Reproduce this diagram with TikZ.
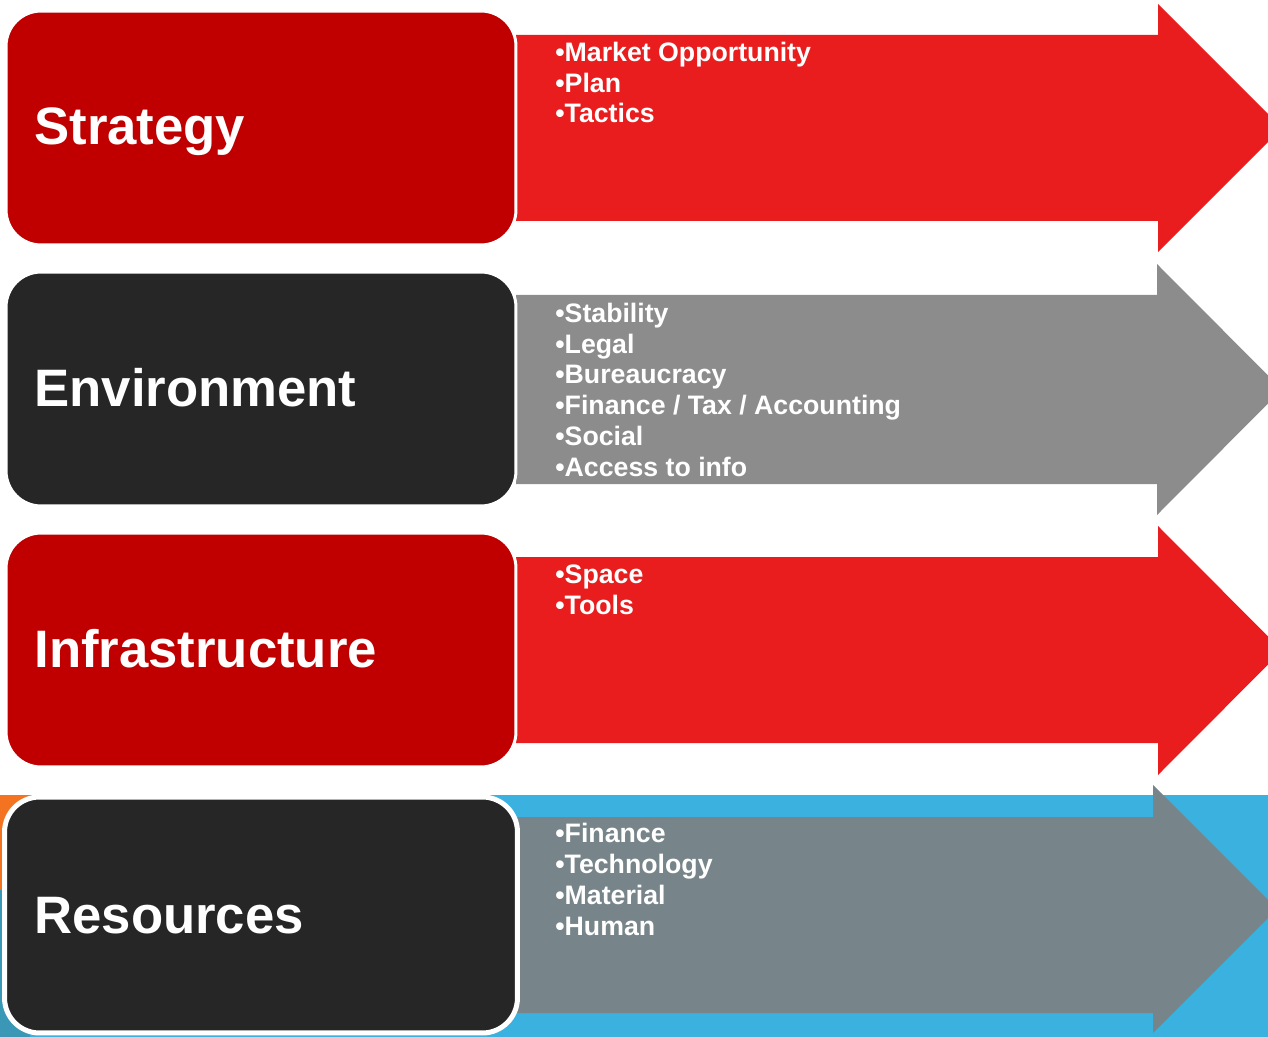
\documentclass[tikz,border=0pt]{standalone}
\usepackage{fontspec}
\setmainfont{Liberation Sans}

\definecolor{boxred}{HTML}{C00000}
\definecolor{arrowred}{HTML}{E91D1D}
\definecolor{boxdark}{HTML}{262626}
\definecolor{arrowgray}{HTML}{8C8C8C}
\definecolor{arrowslate}{HTML}{77858A}
\definecolor{bandblue}{HTML}{3AB1DF}
\definecolor{bandorange}{HTML}{F47321}
\definecolor{bandteal}{HTML}{3A97B6}

\tikzset{
  catbox/.style={draw=white, line width=0.06cm, rounded corners=0.7cm,
    minimum width=10.2cm, minimum height=4.68cm, inner sep=0pt},
  titletext/.style={text=white, font=\bfseries\fontsize{30}{36}\selectfont,
    anchor=base west, inner sep=0pt},
  itemlist/.style={text=white, font=\bfseries\fontsize{15.2}{17.5}\selectfont,
    align=left, anchor=base west, inner sep=0pt}, % base = last line
}

\begin{document}
\begin{tikzpicture}[x=0.02cm, y=-0.02cm]
\useasboundingbox (0,0) rectangle (1268,1037);
\clip (0,0) rectangle (1268,1037);

\fill [bandblue] (0,795) rectangle (1268,1037); % band behind last row
\fill [bandorange] (0,795) rectangle (30,890);
\fill [bandteal] (0,890) rectangle (30,1037);

\fill [arrowred] (516,35) -- (1158,35) -- (1158,4) -- (1282,128)
  -- (1158,252) -- (1158,221) -- (516,221) -- cycle; % strategy arrow
\node [catbox, fill=boxred] (strategy) at (261,128) {};
\node [titletext] (strategy-title) at (34,145) {Strategy};
\node [itemlist] (strategy-list) at (555,123)
  {•Market Opportunity\\•Plan\\•Tactics};

\fill [arrowgray] (516,295) -- (1157,295) -- (1157,264) -- (1282,389.5)
  -- (1157,515) -- (1157,484) -- (516,484) -- cycle; % environment arrow
\node [catbox, fill=boxdark] (environment) at (261,389) {};
\node [titletext] (environment-title) at (34,406) {Environment};
\node [itemlist] (environment-list) at (555,476)
  {•Stability\\•Legal\\•Bureaucracy\\•Finance / Tax / Accounting\\•Social\\•Access to info};

\fill [arrowred] (516,557) -- (1158,557) -- (1158,526) -- (1282,650.5)
  -- (1158,775) -- (1158,743) -- (516,743) -- cycle; % infrastructure arrow
\node [catbox, fill=boxred] (infrastructure) at (261,650) {};
\node [titletext] (infrastructure-title) at (34,667) {Infrastructure};
\node [itemlist] (infrastructure-list) at (555,614)
  {•Space\\•Tools};

\fill [arrowslate] (516,817) -- (1153,817) -- (1153,785) -- (1277,909)
  -- (1153,1033) -- (1153,1013) -- (516,1013) -- cycle; % resources arrow
\node [catbox, fill=boxdark, line width=0.1cm, minimum width=10.26cm,
  minimum height=4.72cm] (resources) at (261,915) {};
\node [titletext] (resources-title) at (34,933) {Resources};
\node [itemlist] (resources-list) at (555,935)
  {•Finance\\•Technology\\•Material\\•Human};

\end{tikzpicture}
\end{document}
